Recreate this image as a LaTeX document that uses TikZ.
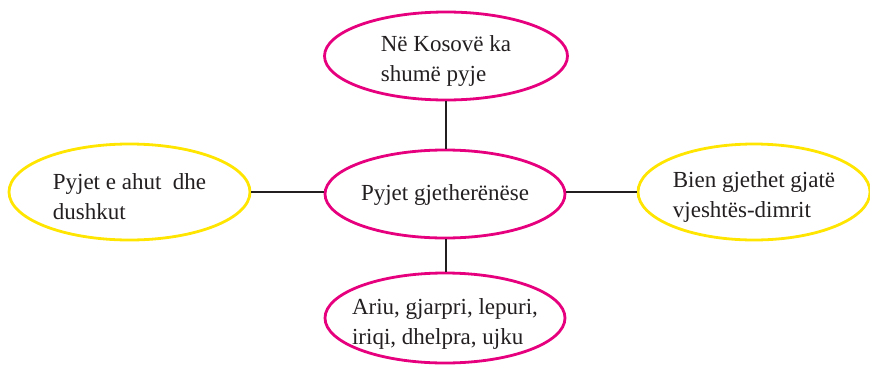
\documentclass[tikz,border=0pt]{standalone}
\usepackage{fontspec}
\setmainfont{Liberation Serif}
\usetikzlibrary{shapes.geometric}
\definecolor{pinkc}{HTML}{E6007E}
\definecolor{yellowc}{HTML}{FFE500}
\definecolor{linec}{HTML}{231F20}
\tikzset{
  bubble/.style={ellipse, draw, line width=2.8pt, inner sep=0pt},
  pinkb/.style={bubble, draw=pinkc},
  yellowb/.style={bubble, draw=yellowc},
  lbl/.style={align=left, inner sep=0pt, text=linec, font=\fontsize{23}{30}\selectfont},
  link/.style={draw=linec, line width=2.6pt}
}
\begin{document}
\begin{tikzpicture}[x=1pt,y=-1pt]
\useasboundingbox (0,0) rectangle (870,370);
\node[pinkb, minimum width=243pt, minimum height=88pt] (top) at (446,56) {};
\node[pinkb, minimum width=240pt, minimum height=88pt] (mid) at (445,194) {};
\node[yellowb, minimum width=241pt, minimum height=96pt] (left) at (129.5,192) {};
\node[yellowb, minimum width=232pt, minimum height=96pt] (right) at (754,192) {};
\node[pinkb, minimum width=240pt, minimum height=90pt] (bot) at (445,318) {};
\node[lbl, yshift=-5pt] (toptext) at (top.center) {Në Kosovë ka\\shumë pyje};
\node[lbl, yshift=-1pt] (midtext) at (mid.center) {Pyjet gjetherënëse};
\node[lbl, yshift=-5pt] (lefttext) at (left.center) {Pyjet e ahut\ \ dhe\\dushkut};
\node[lbl, yshift=-5pt] (righttext) at (right.center) {Bien gjethet gjatë\\vjeshtës-dimrit};
\node[lbl, yshift=-6pt] (bottext) at (bot.center) {Ariu, gjarpri, lepuri,\\iriqi, dhelpra, ujku};
\draw[link] (top.south) -- (mid.north -| top.south);
\draw[link] (mid.south -| top.south) -- (bot.north -| top.south);
\draw[link] (left.east) -- (mid.west |- left.east);
\draw[link] (mid.east |- right.west) -- (right.west);
\end{tikzpicture}
\end{document}
